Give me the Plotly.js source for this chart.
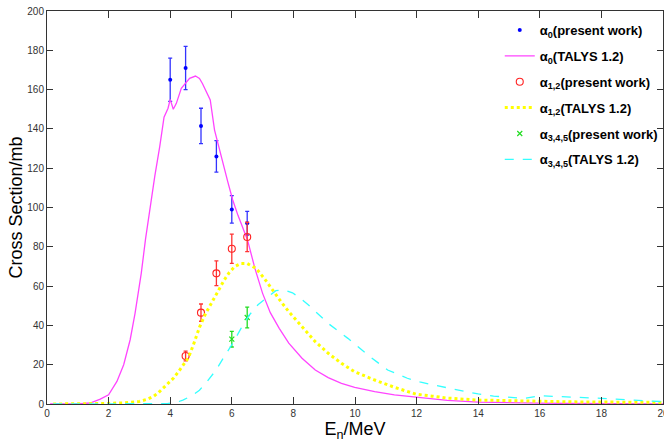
<!DOCTYPE html>
<html>
<head>
<meta charset="utf-8">
<script src="https://cdn.plot.ly/plotly-3.0.1.min.js"></script>
<style>html,body{margin:0;padding:0;background:#fff;}#chart{width:664px;height:446px;}</style>
</head>
<body>
<div id="chart"></div>
<script>
// Measured points (present work)
const a0X = [4.0, 4.5, 5.0, 5.5, 6.0, 6.5];
const a0Y = [165, 171, 141.5, 126, 99, 92];
const a0Err = [11, 11, 9, 8, 7, 6];

const a12X = [4.5, 5.0, 5.5, 6.0, 6.5];
const a12Y = [24.4, 46.5, 66.5, 79, 85];
const a12Err = [2.5, 4.4, 6.3, 7.4, 7.5];

const a345X = [6.0, 6.5];
const a345Y = [33, 44];
const a345Err = [4, 5.3];

// TALYS 1.2 curves
const talys0X = [0.1, 0.5, 1.0, 1.4, 1.73, 2.0, 2.27, 2.49, 2.7, 2.86, 3.06, 3.2, 3.35, 3.5, 3.66, 3.8, 3.93, 4.0, 4.1, 4.2, 4.36, 4.5, 4.63, 4.82, 4.95, 5.05, 5.15, 5.3, 5.44, 5.57, 5.71, 5.87, 6.03, 6.2, 6.51, 6.75, 7.0, 7.25, 7.54, 7.85, 8.28, 8.71, 9.13, 9.56, 9.99, 10.64, 11.28, 12.0, 12.5, 13.0, 14.0, 15.0, 16.0, 17.0, 18.0, 19.0, 20.0];
const talys0Y = [0, 0, 0.1, 0.5, 2.5, 4.7, 11.5, 20, 32.7, 46.3, 66.5, 84, 101, 116, 131, 146, 150.5, 155, 150, 153, 160.6, 163.5, 165.7, 166.9, 165.7, 163, 159.8, 154.7, 139.4, 131, 122.5, 113, 103.8, 96, 83.5, 69, 56.3, 46.5, 38.5, 31, 23.3, 17.3, 13.4, 10.5, 8.5, 6.3, 4.6, 3.4, 2.5, 1.8, 1.0, 0.6, 0.4, 0.3, 0.2, 0.2, 0.1];

const talys12X = [0.2, 1.0, 1.5, 2.0, 2.5, 3.0, 3.25, 3.46, 3.62, 3.78, 3.95, 4.11, 4.27, 4.43, 4.59, 4.75, 4.95, 5.15, 5.35, 5.54, 5.75, 5.92, 6.1, 6.3, 6.5, 6.79, 7.05, 7.32, 7.6, 7.85, 8.28, 8.71, 9.13, 9.56, 9.99, 10.64, 11.28, 11.98, 12.5, 13.0, 14.0, 15.0, 16.0, 17.0, 18.0, 19.0, 20.0];
const talys12Y = [0, 0, 0.1, 0.3, 0.6, 1.3, 2.4, 3.9, 5.8, 8.1, 10.5, 13.2, 16.5, 20, 23.5, 30, 39, 46, 52, 57, 63, 67, 70, 71.5, 71.5, 69, 64, 58, 52, 47, 39.3, 31.7, 25.8, 20.7, 16.4, 12.2, 8.5, 5.0, 4.0, 3.0, 2.0, 1.6, 1.3, 1.1, 1.0, 0.9, 0.8];

const talys345X = [0.2, 3.0, 3.6, 3.9, 4.2, 4.41, 4.7, 4.95, 5.2, 5.49, 5.75, 6.03, 6.3, 6.57, 6.85, 7.11, 7.43, 7.7, 7.97, 8.25, 8.49, 9.13, 9.77, 10.42, 11.06, 11.7, 12.1, 12.6, 13.1, 14.0, 14.5, 15.0, 15.5, 16.0, 16.5, 17.0, 18.0, 19.0, 20.0];
const talys345Y = [0, 0, 0, 0.2, 0.8, 2, 4.2, 7, 11.5, 17.3, 24, 30.9, 38.5, 45.3, 50.5, 53.8, 57.7, 58, 56.6, 53.5, 50.4, 41, 33.4, 24.9, 17.3, 13.1, 11.3, 9.5, 8, 5.1, 4, 3.3, 2.9, 4.2, 3.9, 3.6, 2.9, 2.0, 1.2];

const names = [
  '<b>α<sub>0</sub>(present work)</b>',
  '<b>α<sub>0</sub>(TALYS 1.2)</b>',
  '<b>α<sub>1,2</sub>(present work)</b>',
  '<b>α<sub>1,2</sub>(TALYS 1.2)</b>',
  '<b>α<sub>3,4,5</sub>(present work)</b>',
  '<b>α<sub>3,4,5</sub>(TALYS 1.2)</b>'
];
const xTicks = [0, 2, 4, 6, 8, 10, 12, 14, 16, 18, 20];
const yTicks = [0, 20, 40, 60, 80, 100, 120, 140, 160, 180, 200];

const traces = [
  {x: a0X, y: a0Y, name: names[0], legendgroup: 'g1', type: 'scatter', mode: 'markers',
   marker: {symbol: 'circle', size: 4, color: '#0000ff'},
   error_y: {type: 'data', array: a0Err, visible: true, color: '#3333ff', thickness: 1.3, width: 2}},
  {x: talys0X, y: talys0Y, name: names[1], legendgroup: 'g2', type: 'scatter', mode: 'lines',
   line: {color: '#ff44ff', width: 1.3}},
  {x: a12X, y: a12Y, name: names[2], legendgroup: 'g3', type: 'scatter', mode: 'markers',
   marker: {symbol: 'circle-open', size: 7, color: '#ff2222', line: {width: 1.1}},
   error_y: {type: 'data', array: a12Err, visible: true, color: '#ff3333', thickness: 1.3, width: 2}},
  {x: talys12X, y: talys12Y, name: names[3], legendgroup: 'g4', type: 'scatter', mode: 'lines',
   line: {color: '#ffff00', width: 3, dash: 'dot'}},
  {x: a345X, y: a345Y, name: names[4], legendgroup: 'g5', type: 'scatter', mode: 'markers',
   marker: {symbol: 'x-thin', size: 5, color: '#22dd22', line: {width: 1.2, color: '#22dd22'}},
   error_y: {type: 'data', array: a345Err, visible: true, color: '#22dd22', thickness: 1.3, width: 2}},
  {x: talys345X, y: talys345Y, name: names[5], legendgroup: 'g6', type: 'scatter', mode: 'lines',
   line: {color: '#33ffff', width: 1.3, dash: 'dash'}}
];

const tickFont = {family: '"Liberation Sans Narrow", "Arial Narrow", "Liberation Sans", Arial, sans-serif', size: 10, color: '#333'};

const layout = {
  width: 664, height: 446,
  margin: {l: 47, r: 1, t: 11, b: 42, autoexpand: false},
  paper_bgcolor: '#fff', plot_bgcolor: '#fff',
  showlegend: true,
  legend: {x: 0.735, y: 0.99, xanchor: 'left', yanchor: 'top', bgcolor: 'rgba(0,0,0,0)',
    traceorder: 'grouped', tracegroupgap: 6,
    font: {family: '"Liberation Sans", Arial, sans-serif', size: 13, color: '#000'}},
  xaxis: {range: [0, 20.0001], tickvals: xTicks, ticktext: xTicks.map(String),
    ticks: 'inside', ticklen: 7, tickcolor: '#333', showline: true, linecolor: '#333', linewidth: 1,
    mirror: 'ticks', showgrid: false, zeroline: false, tickfont: tickFont, automargin: false,
    ticklabeloverflow: 'allow',
    title: {text: 'E<sub>n</sub>/MeV', font: {family: '"Liberation Sans", Arial, sans-serif', size: 18, color: '#000'}, standoff: 4}},
  yaxis: {range: [0, 200], tickvals: yTicks, ticktext: yTicks.map(String),
    ticks: 'inside', ticklen: 6, tickcolor: '#333', showline: true, linecolor: '#333', linewidth: 1,
    mirror: 'ticks', showgrid: false, zeroline: false, tickfont: tickFont, automargin: false,
    title: {text: 'Cross Section/mb', font: {family: '"Liberation Sans", Arial, sans-serif', size: 18, color: '#000'}, standoff: 0}}
};

Plotly.newPlot('chart', traces, layout, {displayModeBar: false, staticPlot: true});
</script>
</body>
</html>
